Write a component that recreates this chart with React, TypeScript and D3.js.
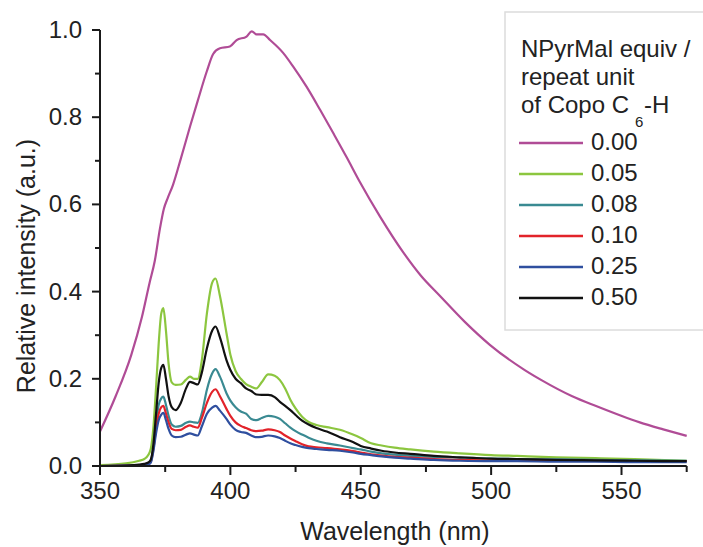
import { useEffect } from "react";
import * as d3 from "d3";

const W = 703;
const H = 547;

// spectrum of the copolymer without quencher (0.00 equiv)
const wlFree = [350, 356, 362, 366, 369, 371, 373, 374.5, 376, 378, 381, 384.5, 387.5, 391, 393.4, 396, 399.8, 402.4, 406.2, 408.2, 410, 412.6, 415.2, 420.3, 424.1, 429.2, 434.4, 439.5, 444.6, 449.5, 457.4, 466.3, 473, 480.4, 490, 499.5, 512.9, 519.3, 531.1, 540, 557, 566, 575];
const intFree = [0.079, 0.16, 0.255, 0.34, 0.42, 0.47, 0.545, 0.59, 0.615, 0.645, 0.705, 0.778, 0.838, 0.906, 0.945, 0.958, 0.962, 0.977, 0.985, 0.997, 0.99, 0.99, 0.977, 0.947, 0.916, 0.87, 0.817, 0.763, 0.708, 0.653, 0.572, 0.49, 0.437, 0.39, 0.33, 0.278, 0.22, 0.197, 0.16, 0.138, 0.1, 0.084, 0.069];

// quenched spectra, all on the same wavelength grid
const wl = [350, 360, 365, 367, 368.5, 369.5, 370.5, 371.5, 372.5, 373.5, 374.3, 375.3, 376.3, 377.5, 379, 381, 383, 384.5, 386, 387.5, 389, 391, 393, 394.3, 396, 398.5, 400, 402, 404, 406, 408, 410, 412, 414.5, 417, 419, 421, 423, 425, 427.5, 430, 433, 437, 442, 447, 450, 454, 458, 463, 469, 478, 488, 500, 510, 525, 540, 555, 575];
const int005 = [0.002, 0.006, 0.012, 0.016, 0.025, 0.04, 0.09, 0.18, 0.28, 0.35, 0.362, 0.31, 0.235, 0.192, 0.186, 0.187, 0.198, 0.205, 0.2, 0.2, 0.24, 0.35, 0.42, 0.43, 0.39, 0.305, 0.255, 0.218, 0.2, 0.188, 0.182, 0.178, 0.192, 0.21, 0.207, 0.197, 0.178, 0.152, 0.132, 0.113, 0.101, 0.094, 0.089, 0.083, 0.072, 0.064, 0.052, 0.047, 0.042, 0.038, 0.033, 0.029, 0.025, 0.023, 0.02, 0.018, 0.016, 0.012];
const int008 = [0, 0.001, 0.002, 0.003, 0.005, 0.012, 0.045, 0.1, 0.14, 0.155, 0.159, 0.14, 0.115, 0.095, 0.09, 0.092, 0.099, 0.102, 0.1, 0.099, 0.12, 0.175, 0.212, 0.222, 0.205, 0.167, 0.15, 0.135, 0.125, 0.12, 0.108, 0.105, 0.11, 0.115, 0.113, 0.108, 0.098, 0.088, 0.08, 0.072, 0.065, 0.058, 0.052, 0.047, 0.041, 0.038, 0.033, 0.029, 0.026, 0.023, 0.021, 0.019, 0.017, 0.016, 0.015, 0.014, 0.013, 0.012];
const int010 = [0, 0.001, 0.002, 0.003, 0.004, 0.01, 0.04, 0.085, 0.12, 0.135, 0.138, 0.12, 0.1, 0.085, 0.082, 0.083, 0.09, 0.093, 0.09, 0.088, 0.109, 0.145, 0.17, 0.176, 0.16, 0.131, 0.115, 0.1, 0.092, 0.087, 0.082, 0.08, 0.081, 0.084, 0.082, 0.078, 0.07, 0.063, 0.057, 0.05, 0.045, 0.043, 0.041, 0.038, 0.034, 0.031, 0.027, 0.024, 0.021, 0.019, 0.016, 0.014, 0.013, 0.013, 0.012, 0.012, 0.011, 0.011];
const int025 = [0, 0.001, 0.002, 0.003, 0.004, 0.008, 0.035, 0.075, 0.105, 0.118, 0.122, 0.105, 0.085, 0.07, 0.066, 0.067, 0.072, 0.075, 0.072, 0.07, 0.09, 0.12, 0.134, 0.138, 0.127, 0.108, 0.095, 0.083, 0.078, 0.076, 0.07, 0.066, 0.067, 0.07, 0.068, 0.064, 0.058, 0.052, 0.048, 0.044, 0.041, 0.039, 0.037, 0.035, 0.031, 0.028, 0.025, 0.022, 0.019, 0.017, 0.014, 0.012, 0.011, 0.011, 0.01, 0.01, 0.009, 0.009];
const int050 = [0, 0.001, 0.003, 0.005, 0.008, 0.015, 0.05, 0.12, 0.19, 0.225, 0.232, 0.2, 0.16, 0.135, 0.128, 0.145, 0.178, 0.193, 0.19, 0.187, 0.213, 0.27, 0.31, 0.32, 0.295, 0.243, 0.22, 0.2, 0.19, 0.178, 0.172, 0.164, 0.163, 0.163, 0.158, 0.147, 0.138, 0.128, 0.117, 0.104, 0.095, 0.087, 0.079, 0.066, 0.055, 0.046, 0.04, 0.035, 0.031, 0.028, 0.023, 0.02, 0.017, 0.016, 0.014, 0.013, 0.012, 0.011];

const labels = ["0.00", "0.05", "0.08", "0.10", "0.25", "0.50"];
const colors = ["#b04c96", "#8cc63f", "#3a8a92", "#e2232a", "#2f4f9f", "#111111"];

const xTicks = [350, 400, 450, 500, 550];
const xMinor = [375, 425, 475, 525, 575];
const yTicks = [0, 0.2, 0.4, 0.6, 0.8, 1.0];
const yMinor = [0.1, 0.3, 0.5, 0.7, 0.9];

const FONT = "'Liberation Sans', Arial, sans-serif";

export default function App() {
  useEffect(() => {
    document.body.style.margin = "0";
  }, []);

  const x = d3.scaleLinear().domain([350, 575]).range([100, 686.7]);
  const y = d3.scaleLinear().domain([0, 1]).range([466, 30]);

  const series = [
    { xs: wlFree, ys: intFree },
    { xs: wl, ys: int005 },
    { xs: wl, ys: int008 },
    { xs: wl, ys: int010 },
    { xs: wl, ys: int025 },
    { xs: wl, ys: int050 },
  ];

  const line = d3
    .line<[number, number]>()
    .x((d) => x(d[0]))
    .y((d) => y(d[1]))
    .curve(d3.curveMonotoneX);

  const axisColor = "#1a1a1a";

  return (
    <svg width={W} height={H} style={{ display: "block", background: "#fff" }} fontFamily={FONT}>
      {/* legend box */}
      <rect x={505} y={12} width={220} height={318} fill="#fff" stroke="#dcdcdc" strokeWidth={1.5} />

      {/* curves */}
      {series.map((s, i) => (
        <path
          key={labels[i]}
          d={line(s.xs.map((v, j) => [v, s.ys[j]] as [number, number])) || ""}
          fill="none"
          stroke={colors[i]}
          strokeWidth={2.2}
          strokeLinejoin="round"
        />
      ))}

      {/* x axis */}
      <line x1={x(350)} x2={x(575)} y1={y(0)} y2={y(0)} stroke={axisColor} strokeWidth={2} />
      {xTicks.map((t) => (
        <g key={"xt" + t}>
          <line x1={x(t)} x2={x(t)} y1={y(0)} y2={y(0) + 9} stroke={axisColor} strokeWidth={2} />
          <text x={x(t)} y={499} textAnchor="middle" fontSize={24} fill="#222">
            {t}
          </text>
        </g>
      ))}
      {xMinor.map((t) => (
        <line key={"xm" + t} x1={x(t)} x2={x(t)} y1={y(0)} y2={y(0) + 6} stroke={axisColor} strokeWidth={2} />
      ))}

      {/* y axis */}
      <line x1={x(350)} x2={x(350)} y1={y(0)} y2={y(1)} stroke={axisColor} strokeWidth={2} />
      {yTicks.map((t) => (
        <g key={"yt" + t}>
          <line x1={x(350) - 8} x2={x(350)} y1={y(t)} y2={y(t)} stroke={axisColor} strokeWidth={2} />
          <text x={82} y={y(t) + 8} textAnchor="end" fontSize={24} fill="#222">
            {d3.format(".1f")(t)}
          </text>
        </g>
      ))}
      {yMinor.map((t) => (
        <line key={"ym" + t} x1={x(350) - 5} x2={x(350)} y1={y(t)} y2={y(t)} stroke={axisColor} strokeWidth={2} />
      ))}

      {/* axis titles */}
      <text x={395} y={540} textAnchor="middle" fontSize={25} fill="#222">
        Wavelength (nm)
      </text>
      <text transform="translate(35,266) rotate(-90)" textAnchor="middle" fontSize={25} fill="#222">
        Relative intensity (a.u.)
      </text>

      {/* legend */}
      <g fontSize={24} fill="#222">
        <text x={521} y={57}>NPyrMal equiv /</text>
        <text x={521} y={85}>repeat unit</text>
        <text x={521} y={113}>
          of Copo C
          <tspan x={635} y={127} fontSize={15}>6</tspan>
          <tspan x={644} y={113}>-H</tspan>
        </text>
        {labels.map((l, i) => (
          <g key={"lg" + l}>
            <line x1={519} x2={583} y1={143 + i * 31} y2={143 + i * 31} stroke={colors[i]} strokeWidth={2.5} />
            <text x={591} y={150 + i * 31}>{l}</text>
          </g>
        ))}
      </g>
    </svg>
  );
}
